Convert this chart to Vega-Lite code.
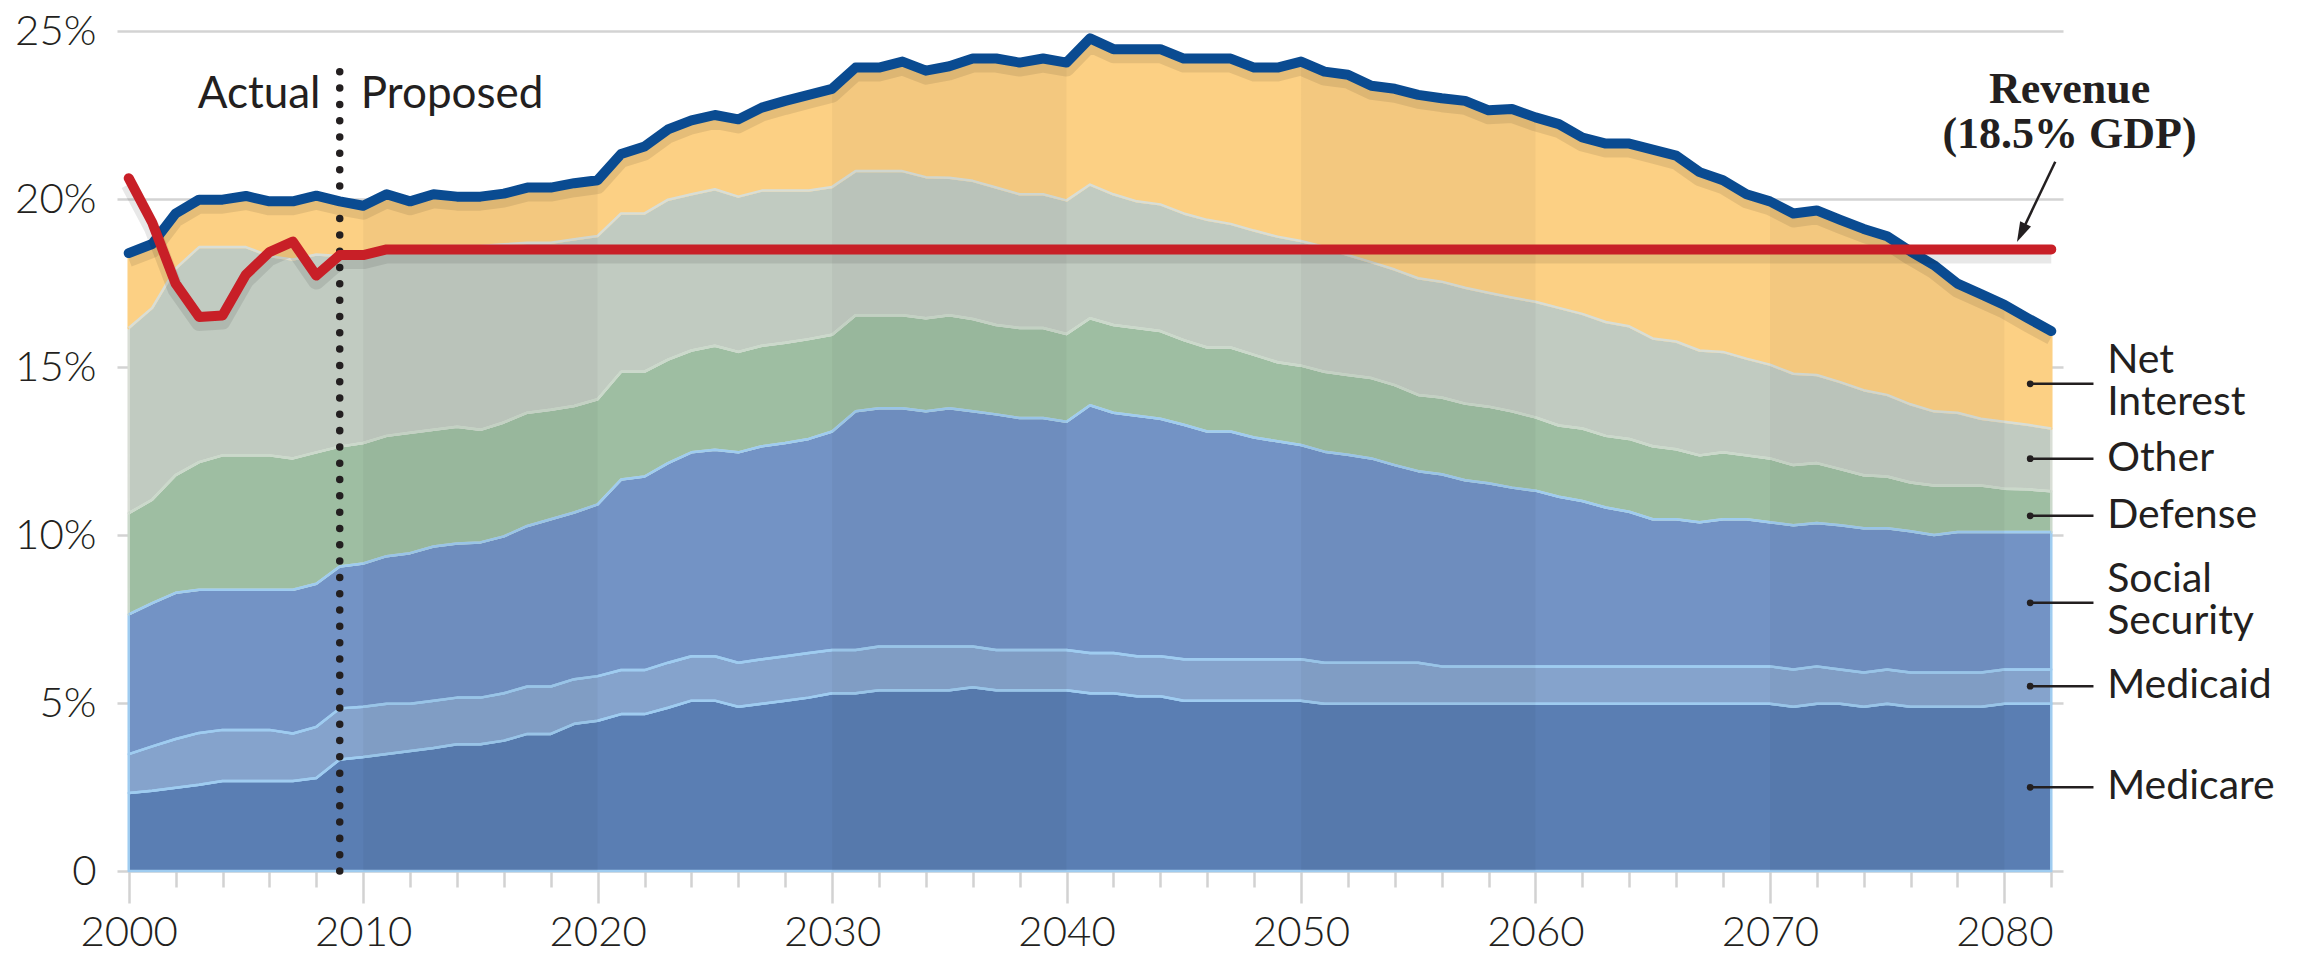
{
  "$schema": "https://vega.github.io/schema/vega-lite/v6.json",
  "autosize": {"type": "none"},
  "width": 1946,
  "height": 840,
  "padding": {"left": 117, "top": 31, "right": 236, "bottom": 84},
  "background": "white",
  "config": {"view": {"stroke": null}},
  "datasets": {
    "spend": [
{"year":2000,"cat":"Medicare","pct":2.32},{"year":2000,"cat":"Medicaid","pct":1.16},{"year":2000,"cat":"Social Security","pct":4.16},{"year":2000,"cat":"Defense","pct":3.01},{"year":2000,"cat":"Other","pct":5.51},{"year":2000,"cat":"Net Interest","pct":2.23},
{"year":2001,"cat":"Medicare","pct":2.39},{"year":2001,"cat":"Medicaid","pct":1.32},{"year":2001,"cat":"Social Security","pct":4.26},{"year":2001,"cat":"Defense","pct":3.08},{"year":2001,"cat":"Other","pct":5.71},{"year":2001,"cat":"Net Interest","pct":1.90},
{"year":2002,"cat":"Medicare","pct":2.48},{"year":2002,"cat":"Medicaid","pct":1.45},{"year":2002,"cat":"Social Security","pct":4.35},{"year":2002,"cat":"Defense","pct":3.50},{"year":2002,"cat":"Other","pct":6.15},{"year":2002,"cat":"Net Interest","pct":1.64},
{"year":2003,"cat":"Medicare","pct":2.57},{"year":2003,"cat":"Medicaid","pct":1.54},{"year":2003,"cat":"Social Security","pct":4.26},{"year":2003,"cat":"Defense","pct":3.80},{"year":2003,"cat":"Other","pct":6.40},{"year":2003,"cat":"Net Interest","pct":1.41},
{"year":2004,"cat":"Medicare","pct":2.68},{"year":2004,"cat":"Medicaid","pct":1.52},{"year":2004,"cat":"Social Security","pct":4.17},{"year":2004,"cat":"Defense","pct":4.00},{"year":2004,"cat":"Other","pct":6.20},{"year":2004,"cat":"Net Interest","pct":1.41},
{"year":2005,"cat":"Medicare","pct":2.68},{"year":2005,"cat":"Medicaid","pct":1.52},{"year":2005,"cat":"Social Security","pct":4.17},{"year":2005,"cat":"Defense","pct":4.00},{"year":2005,"cat":"Other","pct":6.20},{"year":2005,"cat":"Net Interest","pct":1.52},
{"year":2006,"cat":"Medicare","pct":2.68},{"year":2006,"cat":"Medicaid","pct":1.52},{"year":2006,"cat":"Social Security","pct":4.17},{"year":2006,"cat":"Defense","pct":4.00},{"year":2006,"cat":"Other","pct":5.93},{"year":2006,"cat":"Net Interest","pct":1.63},
{"year":2007,"cat":"Medicare","pct":2.68},{"year":2007,"cat":"Medicaid","pct":1.41},{"year":2007,"cat":"Social Security","pct":4.28},{"year":2007,"cat":"Defense","pct":3.91},{"year":2007,"cat":"Other","pct":5.92},{"year":2007,"cat":"Net Interest","pct":1.73},
{"year":2008,"cat":"Medicare","pct":2.77},{"year":2008,"cat":"Medicaid","pct":1.52},{"year":2008,"cat":"Social Security","pct":4.26},{"year":2008,"cat":"Defense","pct":3.91},{"year":2008,"cat":"Other","pct":5.89},{"year":2008,"cat":"Net Interest","pct":1.75},
{"year":2009,"cat":"Medicare","pct":3.32},{"year":2009,"cat":"Medicaid","pct":1.52},{"year":2009,"cat":"Social Security","pct":4.22},{"year":2009,"cat":"Defense","pct":3.57},{"year":2009,"cat":"Other","pct":5.67},{"year":2009,"cat":"Net Interest","pct":1.63},
{"year":2010,"cat":"Medicare","pct":3.39},{"year":2010,"cat":"Medicaid","pct":1.50},{"year":2010,"cat":"Social Security","pct":4.26},{"year":2010,"cat":"Defense","pct":3.59},{"year":2010,"cat":"Other","pct":5.66},{"year":2010,"cat":"Net Interest","pct":1.40},
{"year":2011,"cat":"Medicare","pct":3.48},{"year":2011,"cat":"Medicaid","pct":1.50},{"year":2011,"cat":"Social Security","pct":4.39},{"year":2011,"cat":"Defense","pct":3.58},{"year":2011,"cat":"Other","pct":5.55},{"year":2011,"cat":"Net Interest","pct":1.64},
{"year":2012,"cat":"Medicare","pct":3.57},{"year":2012,"cat":"Medicaid","pct":1.41},{"year":2012,"cat":"Social Security","pct":4.48},{"year":2012,"cat":"Defense","pct":3.58},{"year":2012,"cat":"Other","pct":5.51},{"year":2012,"cat":"Net Interest","pct":1.38},
{"year":2013,"cat":"Medicare","pct":3.66},{"year":2013,"cat":"Medicaid","pct":1.41},{"year":2013,"cat":"Social Security","pct":4.59},{"year":2013,"cat":"Defense","pct":3.47},{"year":2013,"cat":"Other","pct":5.47},{"year":2013,"cat":"Net Interest","pct":1.54},
{"year":2014,"cat":"Medicare","pct":3.77},{"year":2014,"cat":"Medicaid","pct":1.39},{"year":2014,"cat":"Social Security","pct":4.59},{"year":2014,"cat":"Defense","pct":3.47},{"year":2014,"cat":"Other","pct":5.38},{"year":2014,"cat":"Net Interest","pct":1.47},
{"year":2015,"cat":"Medicare","pct":3.77},{"year":2015,"cat":"Medicaid","pct":1.39},{"year":2015,"cat":"Social Security","pct":4.62},{"year":2015,"cat":"Defense","pct":3.35},{"year":2015,"cat":"Other","pct":5.47},{"year":2015,"cat":"Net Interest","pct":1.47},
{"year":2016,"cat":"Medicare","pct":3.88},{"year":2016,"cat":"Medicaid","pct":1.41},{"year":2016,"cat":"Social Security","pct":4.67},{"year":2016,"cat":"Defense","pct":3.39},{"year":2016,"cat":"Other","pct":5.30},{"year":2016,"cat":"Net Interest","pct":1.51},
{"year":2017,"cat":"Medicare","pct":4.08},{"year":2017,"cat":"Medicaid","pct":1.41},{"year":2017,"cat":"Social Security","pct":4.78},{"year":2017,"cat":"Defense","pct":3.37},{"year":2017,"cat":"Other","pct":5.06},{"year":2017,"cat":"Net Interest","pct":1.64},
{"year":2018,"cat":"Medicare","pct":4.08},{"year":2018,"cat":"Medicaid","pct":1.41},{"year":2018,"cat":"Social Security","pct":4.98},{"year":2018,"cat":"Defense","pct":3.26},{"year":2018,"cat":"Other","pct":4.97},{"year":2018,"cat":"Net Interest","pct":1.64},
{"year":2019,"cat":"Medicare","pct":4.38},{"year":2019,"cat":"Medicaid","pct":1.33},{"year":2019,"cat":"Social Security","pct":4.96},{"year":2019,"cat":"Defense","pct":3.17},{"year":2019,"cat":"Other","pct":4.96},{"year":2019,"cat":"Net Interest","pct":1.67},
{"year":2020,"cat":"Medicare","pct":4.47},{"year":2020,"cat":"Medicaid","pct":1.33},{"year":2020,"cat":"Social Security","pct":5.11},{"year":2020,"cat":"Defense","pct":3.13},{"year":2020,"cat":"Other","pct":4.86},{"year":2020,"cat":"Net Interest","pct":1.66},
{"year":2021,"cat":"Medicare","pct":4.67},{"year":2021,"cat":"Medicaid","pct":1.31},{"year":2021,"cat":"Social Security","pct":5.67},{"year":2021,"cat":"Defense","pct":3.21},{"year":2021,"cat":"Other","pct":4.71},{"year":2021,"cat":"Net Interest","pct":1.77},
{"year":2022,"cat":"Medicare","pct":4.67},{"year":2022,"cat":"Medicaid","pct":1.31},{"year":2022,"cat":"Social Security","pct":5.76},{"year":2022,"cat":"Defense","pct":3.12},{"year":2022,"cat":"Other","pct":4.71},{"year":2022,"cat":"Net Interest","pct":1.99},
{"year":2023,"cat":"Medicare","pct":4.86},{"year":2023,"cat":"Medicaid","pct":1.34},{"year":2023,"cat":"Social Security","pct":5.94},{"year":2023,"cat":"Defense","pct":3.08},{"year":2023,"cat":"Other","pct":4.76},{"year":2023,"cat":"Net Interest","pct":2.09},
{"year":2024,"cat":"Medicare","pct":5.07},{"year":2024,"cat":"Medicaid","pct":1.32},{"year":2024,"cat":"Social Security","pct":6.07},{"year":2024,"cat":"Defense","pct":3.03},{"year":2024,"cat":"Other","pct":4.65},{"year":2024,"cat":"Net Interest","pct":2.20},
{"year":2025,"cat":"Medicare","pct":5.07},{"year":2025,"cat":"Medicaid","pct":1.32},{"year":2025,"cat":"Social Security","pct":6.15},{"year":2025,"cat":"Defense","pct":3.09},{"year":2025,"cat":"Other","pct":4.66},{"year":2025,"cat":"Net Interest","pct":2.21},
{"year":2026,"cat":"Medicare","pct":4.89},{"year":2026,"cat":"Medicaid","pct":1.31},{"year":2026,"cat":"Social Security","pct":6.26},{"year":2026,"cat":"Defense","pct":2.99},{"year":2026,"cat":"Other","pct":4.62},{"year":2026,"cat":"Net Interest","pct":2.30},
{"year":2027,"cat":"Medicare","pct":4.98},{"year":2027,"cat":"Medicaid","pct":1.32},{"year":2027,"cat":"Social Security","pct":6.34},{"year":2027,"cat":"Defense","pct":2.99},{"year":2027,"cat":"Other","pct":4.62},{"year":2027,"cat":"Net Interest","pct":2.47},
{"year":2028,"cat":"Medicare","pct":5.07},{"year":2028,"cat":"Medicaid","pct":1.32},{"year":2028,"cat":"Social Security","pct":6.35},{"year":2028,"cat":"Defense","pct":2.98},{"year":2028,"cat":"Other","pct":4.53},{"year":2028,"cat":"Net Interest","pct":2.67},
{"year":2029,"cat":"Medicare","pct":5.16},{"year":2029,"cat":"Medicaid","pct":1.33},{"year":2029,"cat":"Social Security","pct":6.37},{"year":2029,"cat":"Defense","pct":2.97},{"year":2029,"cat":"Other","pct":4.42},{"year":2029,"cat":"Net Interest","pct":2.85},
{"year":2030,"cat":"Medicare","pct":5.29},{"year":2030,"cat":"Medicaid","pct":1.29},{"year":2030,"cat":"Social Security","pct":6.50},{"year":2030,"cat":"Defense","pct":2.88},{"year":2030,"cat":"Other","pct":4.40},{"year":2030,"cat":"Net Interest","pct":2.92},
{"year":2031,"cat":"Medicare","pct":5.29},{"year":2031,"cat":"Medicaid","pct":1.29},{"year":2031,"cat":"Social Security","pct":7.10},{"year":2031,"cat":"Defense","pct":2.86},{"year":2031,"cat":"Other","pct":4.29},{"year":2031,"cat":"Net Interest","pct":3.08},
{"year":2032,"cat":"Medicare","pct":5.38},{"year":2032,"cat":"Medicaid","pct":1.30},{"year":2032,"cat":"Social Security","pct":7.09},{"year":2032,"cat":"Defense","pct":2.77},{"year":2032,"cat":"Other","pct":4.29},{"year":2032,"cat":"Net Interest","pct":3.08},
{"year":2033,"cat":"Medicare","pct":5.38},{"year":2033,"cat":"Medicaid","pct":1.30},{"year":2033,"cat":"Social Security","pct":7.09},{"year":2033,"cat":"Defense","pct":2.77},{"year":2033,"cat":"Other","pct":4.29},{"year":2033,"cat":"Net Interest","pct":3.26},
{"year":2034,"cat":"Medicare","pct":5.38},{"year":2034,"cat":"Medicaid","pct":1.30},{"year":2034,"cat":"Social Security","pct":7.00},{"year":2034,"cat":"Defense","pct":2.77},{"year":2034,"cat":"Other","pct":4.20},{"year":2034,"cat":"Net Interest","pct":3.17},
{"year":2035,"cat":"Medicare","pct":5.38},{"year":2035,"cat":"Medicaid","pct":1.30},{"year":2035,"cat":"Social Security","pct":7.09},{"year":2035,"cat":"Defense","pct":2.77},{"year":2035,"cat":"Other","pct":4.09},{"year":2035,"cat":"Net Interest","pct":3.32},
{"year":2036,"cat":"Medicare","pct":5.47},{"year":2036,"cat":"Medicaid","pct":1.21},{"year":2036,"cat":"Social Security","pct":7.00},{"year":2036,"cat":"Defense","pct":2.75},{"year":2036,"cat":"Other","pct":4.11},{"year":2036,"cat":"Net Interest","pct":3.64},
{"year":2037,"cat":"Medicare","pct":5.38},{"year":2037,"cat":"Medicaid","pct":1.20},{"year":2037,"cat":"Social Security","pct":7.01},{"year":2037,"cat":"Defense","pct":2.66},{"year":2037,"cat":"Other","pct":4.09},{"year":2037,"cat":"Net Interest","pct":3.84},
{"year":2038,"cat":"Medicare","pct":5.38},{"year":2038,"cat":"Medicaid","pct":1.20},{"year":2038,"cat":"Social Security","pct":6.90},{"year":2038,"cat":"Defense","pct":2.68},{"year":2038,"cat":"Other","pct":3.98},{"year":2038,"cat":"Net Interest","pct":3.92},
{"year":2039,"cat":"Medicare","pct":5.38},{"year":2039,"cat":"Medicaid","pct":1.20},{"year":2039,"cat":"Social Security","pct":6.90},{"year":2039,"cat":"Defense","pct":2.68},{"year":2039,"cat":"Other","pct":3.98},{"year":2039,"cat":"Net Interest","pct":4.04},
{"year":2040,"cat":"Medicare","pct":5.38},{"year":2040,"cat":"Medicaid","pct":1.20},{"year":2040,"cat":"Social Security","pct":6.79},{"year":2040,"cat":"Defense","pct":2.61},{"year":2040,"cat":"Other","pct":3.98},{"year":2040,"cat":"Net Interest","pct":4.10},
{"year":2041,"cat":"Medicare","pct":5.29},{"year":2041,"cat":"Medicaid","pct":1.20},{"year":2041,"cat":"Social Security","pct":7.37},{"year":2041,"cat":"Defense","pct":2.59},{"year":2041,"cat":"Other","pct":3.98},{"year":2041,"cat":"Net Interest","pct":4.35},
{"year":2042,"cat":"Medicare","pct":5.29},{"year":2042,"cat":"Medicaid","pct":1.20},{"year":2042,"cat":"Social Security","pct":7.15},{"year":2042,"cat":"Defense","pct":2.61},{"year":2042,"cat":"Other","pct":3.89},{"year":2042,"cat":"Net Interest","pct":4.32},
{"year":2043,"cat":"Medicare","pct":5.20},{"year":2043,"cat":"Medicaid","pct":1.19},{"year":2043,"cat":"Social Security","pct":7.16},{"year":2043,"cat":"Defense","pct":2.61},{"year":2043,"cat":"Other","pct":3.77},{"year":2043,"cat":"Net Interest","pct":4.53},
{"year":2044,"cat":"Medicare","pct":5.20},{"year":2044,"cat":"Medicaid","pct":1.19},{"year":2044,"cat":"Social Security","pct":7.07},{"year":2044,"cat":"Defense","pct":2.61},{"year":2044,"cat":"Other","pct":3.77},{"year":2044,"cat":"Net Interest","pct":4.62},
{"year":2045,"cat":"Medicare","pct":5.07},{"year":2045,"cat":"Medicaid","pct":1.23},{"year":2045,"cat":"Social Security","pct":6.98},{"year":2045,"cat":"Defense","pct":2.52},{"year":2045,"cat":"Other","pct":3.77},{"year":2045,"cat":"Net Interest","pct":4.61},
{"year":2046,"cat":"Medicare","pct":5.07},{"year":2046,"cat":"Medicaid","pct":1.23},{"year":2046,"cat":"Social Security","pct":6.78},{"year":2046,"cat":"Defense","pct":2.50},{"year":2046,"cat":"Other","pct":3.80},{"year":2046,"cat":"Net Interest","pct":4.80},
{"year":2047,"cat":"Medicare","pct":5.07},{"year":2047,"cat":"Medicaid","pct":1.23},{"year":2047,"cat":"Social Security","pct":6.78},{"year":2047,"cat":"Defense","pct":2.50},{"year":2047,"cat":"Other","pct":3.68},{"year":2047,"cat":"Net Interest","pct":4.92},
{"year":2048,"cat":"Medicare","pct":5.07},{"year":2048,"cat":"Medicaid","pct":1.23},{"year":2048,"cat":"Social Security","pct":6.60},{"year":2048,"cat":"Defense","pct":2.46},{"year":2048,"cat":"Other","pct":3.70},{"year":2048,"cat":"Net Interest","pct":4.85},
{"year":2049,"cat":"Medicare","pct":5.07},{"year":2049,"cat":"Medicaid","pct":1.23},{"year":2049,"cat":"Social Security","pct":6.49},{"year":2049,"cat":"Defense","pct":2.35},{"year":2049,"cat":"Other","pct":3.74},{"year":2049,"cat":"Net Interest","pct":5.03},
{"year":2050,"cat":"Medicare","pct":5.07},{"year":2050,"cat":"Medicaid","pct":1.23},{"year":2050,"cat":"Social Security","pct":6.38},{"year":2050,"cat":"Defense","pct":2.36},{"year":2050,"cat":"Other","pct":3.71},{"year":2050,"cat":"Net Interest","pct":5.34},
{"year":2051,"cat":"Medicare","pct":4.98},{"year":2051,"cat":"Medicaid","pct":1.22},{"year":2051,"cat":"Social Security","pct":6.28},{"year":2051,"cat":"Defense","pct":2.38},{"year":2051,"cat":"Other","pct":3.71},{"year":2051,"cat":"Net Interest","pct":5.22},
{"year":2052,"cat":"Medicare","pct":4.98},{"year":2052,"cat":"Medicaid","pct":1.22},{"year":2052,"cat":"Social Security","pct":6.19},{"year":2052,"cat":"Defense","pct":2.37},{"year":2052,"cat":"Other","pct":3.57},{"year":2052,"cat":"Net Interest","pct":5.37},
{"year":2053,"cat":"Medicare","pct":4.98},{"year":2053,"cat":"Medicaid","pct":1.22},{"year":2053,"cat":"Social Security","pct":6.08},{"year":2053,"cat":"Defense","pct":2.39},{"year":2053,"cat":"Other","pct":3.45},{"year":2053,"cat":"Net Interest","pct":5.25},
{"year":2054,"cat":"Medicare","pct":4.98},{"year":2054,"cat":"Medicaid","pct":1.22},{"year":2054,"cat":"Social Security","pct":5.88},{"year":2054,"cat":"Defense","pct":2.38},{"year":2054,"cat":"Other","pct":3.44},{"year":2054,"cat":"Net Interest","pct":5.38},
{"year":2055,"cat":"Medicare","pct":4.98},{"year":2055,"cat":"Medicaid","pct":1.22},{"year":2055,"cat":"Social Security","pct":5.70},{"year":2055,"cat":"Defense","pct":2.27},{"year":2055,"cat":"Other","pct":3.47},{"year":2055,"cat":"Net Interest","pct":5.46},
{"year":2056,"cat":"Medicare","pct":4.98},{"year":2056,"cat":"Medicaid","pct":1.11},{"year":2056,"cat":"Social Security","pct":5.72},{"year":2056,"cat":"Defense","pct":2.28},{"year":2056,"cat":"Other","pct":3.45},{"year":2056,"cat":"Net Interest","pct":5.46},
{"year":2057,"cat":"Medicare","pct":4.98},{"year":2057,"cat":"Medicaid","pct":1.11},{"year":2057,"cat":"Social Security","pct":5.54},{"year":2057,"cat":"Defense","pct":2.28},{"year":2057,"cat":"Other","pct":3.45},{"year":2057,"cat":"Net Interest","pct":5.56},
{"year":2058,"cat":"Medicare","pct":4.98},{"year":2058,"cat":"Medicaid","pct":1.11},{"year":2058,"cat":"Social Security","pct":5.45},{"year":2058,"cat":"Defense","pct":2.28},{"year":2058,"cat":"Other","pct":3.39},{"year":2058,"cat":"Net Interest","pct":5.43},
{"year":2059,"cat":"Medicare","pct":4.98},{"year":2059,"cat":"Medicaid","pct":1.11},{"year":2059,"cat":"Social Security","pct":5.32},{"year":2059,"cat":"Defense","pct":2.27},{"year":2059,"cat":"Other","pct":3.39},{"year":2059,"cat":"Net Interest","pct":5.61},
{"year":2060,"cat":"Medicare","pct":4.98},{"year":2060,"cat":"Medicaid","pct":1.11},{"year":2060,"cat":"Social Security","pct":5.23},{"year":2060,"cat":"Defense","pct":2.18},{"year":2060,"cat":"Other","pct":3.44},{"year":2060,"cat":"Net Interest","pct":5.49},
{"year":2061,"cat":"Medicare","pct":4.98},{"year":2061,"cat":"Medicaid","pct":1.11},{"year":2061,"cat":"Social Security","pct":5.05},{"year":2061,"cat":"Defense","pct":2.12},{"year":2061,"cat":"Other","pct":3.50},{"year":2061,"cat":"Net Interest","pct":5.47},
{"year":2062,"cat":"Medicare","pct":4.98},{"year":2062,"cat":"Medicaid","pct":1.11},{"year":2062,"cat":"Social Security","pct":4.92},{"year":2062,"cat":"Defense","pct":2.16},{"year":2062,"cat":"Other","pct":3.41},{"year":2062,"cat":"Net Interest","pct":5.25},
{"year":2063,"cat":"Medicare","pct":4.98},{"year":2063,"cat":"Medicaid","pct":1.11},{"year":2063,"cat":"Social Security","pct":4.73},{"year":2063,"cat":"Defense","pct":2.13},{"year":2063,"cat":"Other","pct":3.39},{"year":2063,"cat":"Net Interest","pct":5.31},
{"year":2064,"cat":"Medicare","pct":4.98},{"year":2064,"cat":"Medicaid","pct":1.11},{"year":2064,"cat":"Social Security","pct":4.60},{"year":2064,"cat":"Defense","pct":2.17},{"year":2064,"cat":"Other","pct":3.35},{"year":2064,"cat":"Net Interest","pct":5.44},
{"year":2065,"cat":"Medicare","pct":4.98},{"year":2065,"cat":"Medicaid","pct":1.11},{"year":2065,"cat":"Social Security","pct":4.38},{"year":2065,"cat":"Defense","pct":2.17},{"year":2065,"cat":"Other","pct":3.21},{"year":2065,"cat":"Net Interest","pct":5.62},
{"year":2066,"cat":"Medicare","pct":4.98},{"year":2066,"cat":"Medicaid","pct":1.11},{"year":2066,"cat":"Social Security","pct":4.38},{"year":2066,"cat":"Defense","pct":2.08},{"year":2066,"cat":"Other","pct":3.21},{"year":2066,"cat":"Net Interest","pct":5.53},
{"year":2067,"cat":"Medicare","pct":4.98},{"year":2067,"cat":"Medicaid","pct":1.11},{"year":2067,"cat":"Social Security","pct":4.29},{"year":2067,"cat":"Defense","pct":1.99},{"year":2067,"cat":"Other","pct":3.12},{"year":2067,"cat":"Net Interest","pct":5.31},
{"year":2068,"cat":"Medicare","pct":4.98},{"year":2068,"cat":"Medicaid","pct":1.11},{"year":2068,"cat":"Social Security","pct":4.38},{"year":2068,"cat":"Defense","pct":1.99},{"year":2068,"cat":"Other","pct":2.99},{"year":2068,"cat":"Net Interest","pct":5.11},
{"year":2069,"cat":"Medicare","pct":4.98},{"year":2069,"cat":"Medicaid","pct":1.11},{"year":2069,"cat":"Social Security","pct":4.38},{"year":2069,"cat":"Defense","pct":1.90},{"year":2069,"cat":"Other","pct":2.88},{"year":2069,"cat":"Net Interest","pct":4.89},
{"year":2070,"cat":"Medicare","pct":4.98},{"year":2070,"cat":"Medicaid","pct":1.11},{"year":2070,"cat":"Social Security","pct":4.29},{"year":2070,"cat":"Defense","pct":1.90},{"year":2070,"cat":"Other","pct":2.79},{"year":2070,"cat":"Net Interest","pct":4.86},
{"year":2071,"cat":"Medicare","pct":4.89},{"year":2071,"cat":"Medicaid","pct":1.11},{"year":2071,"cat":"Social Security","pct":4.29},{"year":2071,"cat":"Defense","pct":1.79},{"year":2071,"cat":"Other","pct":2.72},{"year":2071,"cat":"Net Interest","pct":4.77},
{"year":2072,"cat":"Medicare","pct":4.98},{"year":2072,"cat":"Medicaid","pct":1.11},{"year":2072,"cat":"Social Security","pct":4.27},{"year":2072,"cat":"Defense","pct":1.78},{"year":2072,"cat":"Other","pct":2.62},{"year":2072,"cat":"Net Interest","pct":4.90},
{"year":2073,"cat":"Medicare","pct":4.98},{"year":2073,"cat":"Medicaid","pct":1.02},{"year":2073,"cat":"Social Security","pct":4.29},{"year":2073,"cat":"Defense","pct":1.67},{"year":2073,"cat":"Other","pct":2.59},{"year":2073,"cat":"Net Interest","pct":4.83},
{"year":2074,"cat":"Medicare","pct":4.89},{"year":2074,"cat":"Medicaid","pct":1.02},{"year":2074,"cat":"Social Security","pct":4.29},{"year":2074,"cat":"Defense","pct":1.58},{"year":2074,"cat":"Other","pct":2.53},{"year":2074,"cat":"Net Interest","pct":4.80},
{"year":2075,"cat":"Medicare","pct":4.98},{"year":2075,"cat":"Medicaid","pct":1.02},{"year":2075,"cat":"Social Security","pct":4.20},{"year":2075,"cat":"Defense","pct":1.54},{"year":2075,"cat":"Other","pct":2.43},{"year":2075,"cat":"Net Interest","pct":4.72},
{"year":2076,"cat":"Medicare","pct":4.89},{"year":2076,"cat":"Medicaid","pct":1.02},{"year":2076,"cat":"Social Security","pct":4.20},{"year":2076,"cat":"Defense","pct":1.45},{"year":2076,"cat":"Other","pct":2.33},{"year":2076,"cat":"Net Interest","pct":4.55},
{"year":2077,"cat":"Medicare","pct":4.89},{"year":2077,"cat":"Medicaid","pct":1.02},{"year":2077,"cat":"Social Security","pct":4.09},{"year":2077,"cat":"Defense","pct":1.47},{"year":2077,"cat":"Other","pct":2.21},{"year":2077,"cat":"Net Interest","pct":4.35},
{"year":2078,"cat":"Medicare","pct":4.89},{"year":2078,"cat":"Medicaid","pct":1.02},{"year":2078,"cat":"Social Security","pct":4.18},{"year":2078,"cat":"Defense","pct":1.38},{"year":2078,"cat":"Other","pct":2.17},{"year":2078,"cat":"Net Interest","pct":3.84},
{"year":2079,"cat":"Medicare","pct":4.89},{"year":2079,"cat":"Medicaid","pct":1.02},{"year":2079,"cat":"Social Security","pct":4.18},{"year":2079,"cat":"Defense","pct":1.38},{"year":2079,"cat":"Other","pct":1.99},{"year":2079,"cat":"Net Interest","pct":3.71},
{"year":2080,"cat":"Medicare","pct":4.98},{"year":2080,"cat":"Medicaid","pct":1.02},{"year":2080,"cat":"Social Security","pct":4.09},{"year":2080,"cat":"Defense","pct":1.29},{"year":2080,"cat":"Other","pct":1.99},{"year":2080,"cat":"Net Interest","pct":3.48},
{"year":2081,"cat":"Medicare","pct":4.98},{"year":2081,"cat":"Medicaid","pct":1.02},{"year":2081,"cat":"Social Security","pct":4.09},{"year":2081,"cat":"Defense","pct":1.27},{"year":2081,"cat":"Other","pct":1.92},{"year":2081,"cat":"Net Interest","pct":3.17},
{"year":2082,"cat":"Medicare","pct":4.98},{"year":2082,"cat":"Medicaid","pct":1.02},{"year":2082,"cat":"Social Security","pct":4.09},{"year":2082,"cat":"Defense","pct":1.21},{"year":2082,"cat":"Other","pct":1.87},{"year":2082,"cat":"Net Interest","pct":2.90}
    ],
    "revenue": [
{"year":2000,"pct":20.62},{"year":2001,"pct":19.3},{"year":2002,"pct":17.48},{"year":2003,"pct":16.49},{"year":2004,"pct":16.53},{"year":2005,"pct":17.75},{"year":2006,"pct":18.42},{"year":2007,"pct":18.73},{"year":2008,"pct":17.72},{"year":2009,"pct":18.33},{"year":2010,"pct":18.33},
{"year":2011,"pct":18.5},{"year":2012,"pct":18.5},{"year":2013,"pct":18.5},{"year":2014,"pct":18.5},{"year":2015,"pct":18.5},{"year":2016,"pct":18.5},{"year":2017,"pct":18.5},{"year":2018,"pct":18.5},{"year":2019,"pct":18.5},{"year":2020,"pct":18.5},
{"year":2021,"pct":18.5},{"year":2022,"pct":18.5},{"year":2023,"pct":18.5},{"year":2024,"pct":18.5},{"year":2025,"pct":18.5},{"year":2026,"pct":18.5},{"year":2027,"pct":18.5},{"year":2028,"pct":18.5},{"year":2029,"pct":18.5},{"year":2030,"pct":18.5},
{"year":2031,"pct":18.5},{"year":2032,"pct":18.5},{"year":2033,"pct":18.5},{"year":2034,"pct":18.5},{"year":2035,"pct":18.5},{"year":2036,"pct":18.5},{"year":2037,"pct":18.5},{"year":2038,"pct":18.5},{"year":2039,"pct":18.5},{"year":2040,"pct":18.5},
{"year":2041,"pct":18.5},{"year":2042,"pct":18.5},{"year":2043,"pct":18.5},{"year":2044,"pct":18.5},{"year":2045,"pct":18.5},{"year":2046,"pct":18.5},{"year":2047,"pct":18.5},{"year":2048,"pct":18.5},{"year":2049,"pct":18.5},{"year":2050,"pct":18.5},
{"year":2051,"pct":18.5},{"year":2052,"pct":18.5},{"year":2053,"pct":18.5},{"year":2054,"pct":18.5},{"year":2055,"pct":18.5},{"year":2056,"pct":18.5},{"year":2057,"pct":18.5},{"year":2058,"pct":18.5},{"year":2059,"pct":18.5},{"year":2060,"pct":18.5},
{"year":2061,"pct":18.5},{"year":2062,"pct":18.5},{"year":2063,"pct":18.5},{"year":2064,"pct":18.5},{"year":2065,"pct":18.5},{"year":2066,"pct":18.5},{"year":2067,"pct":18.5},{"year":2068,"pct":18.5},{"year":2069,"pct":18.5},{"year":2070,"pct":18.5},
{"year":2071,"pct":18.5},{"year":2072,"pct":18.5},{"year":2073,"pct":18.5},{"year":2074,"pct":18.5},{"year":2075,"pct":18.5},{"year":2076,"pct":18.5},{"year":2077,"pct":18.5},{"year":2078,"pct":18.5},{"year":2079,"pct":18.5},{"year":2080,"pct":18.5},
{"year":2081,"pct":18.5},{"year":2082,"pct":18.5}
    ],
    "bands": [
{"year":2010,"band":"2010s"},{"year":2011,"band":"2010s"},{"year":2012,"band":"2010s"},{"year":2013,"band":"2010s"},{"year":2014,"band":"2010s"},{"year":2015,"band":"2010s"},{"year":2016,"band":"2010s"},{"year":2017,"band":"2010s"},{"year":2018,"band":"2010s"},{"year":2019,"band":"2010s"},{"year":2020,"band":"2010s"},
{"year":2030,"band":"2030s"},{"year":2031,"band":"2030s"},{"year":2032,"band":"2030s"},{"year":2033,"band":"2030s"},{"year":2034,"band":"2030s"},{"year":2035,"band":"2030s"},{"year":2036,"band":"2030s"},{"year":2037,"band":"2030s"},{"year":2038,"band":"2030s"},{"year":2039,"band":"2030s"},{"year":2040,"band":"2030s"},
{"year":2050,"band":"2050s"},{"year":2051,"band":"2050s"},{"year":2052,"band":"2050s"},{"year":2053,"band":"2050s"},{"year":2054,"band":"2050s"},{"year":2055,"band":"2050s"},{"year":2056,"band":"2050s"},{"year":2057,"band":"2050s"},{"year":2058,"band":"2050s"},{"year":2059,"band":"2050s"},{"year":2060,"band":"2050s"},
{"year":2070,"band":"2070s"},{"year":2071,"band":"2070s"},{"year":2072,"band":"2070s"},{"year":2073,"band":"2070s"},{"year":2074,"band":"2070s"},{"year":2075,"band":"2070s"},{"year":2076,"band":"2070s"},{"year":2077,"band":"2070s"},{"year":2078,"band":"2070s"},{"year":2079,"band":"2070s"},{"year":2080,"band":"2070s"}
    ],
    "labels": [
{"cat":"Net Interest","text":["Net","Interest"],"year":2081.1,"pct":14.5},
{"cat":"Other","text":["Other"],"year":2081.1,"pct":12.27},
{"cat":"Defense","text":["Defense"],"year":2081.1,"pct":10.57},
{"cat":"Social Security","text":["Social","Security"],"year":2081.1,"pct":7.98},
{"cat":"Medicaid","text":["Medicaid"],"year":2081.1,"pct":5.5},
{"cat":"Medicare","text":["Medicare"],"year":2081.1,"pct":2.49}
    ]
  },
  "layer": [
    {
      "data": {"name": "spend"},
      "transform": [{"calculate": "indexof(['Medicare','Medicaid','Social Security','Defense','Other','Net Interest'], datum.cat)", "as": "k"}],
      "mark": {"type": "area", "strokeWidth": 2.5, "strokeJoin": "round"},
      "encoding": {
        "x": {"field": "year", "type": "quantitative", "title": null,
          "scale": {"domain": [1999.5, 2082.5], "nice": false, "zero": false},
          "axis": {
            "values": [2000,2001,2002,2003,2004,2005,2006,2007,2008,2009,2010,2011,2012,2013,2014,2015,2016,2017,2018,2019,2020,2021,2022,2023,2024,2025,2026,2027,2028,2029,2030,2031,2032,2033,2034,2035,2036,2037,2038,2039,2040,2041,2042,2043,2044,2045,2046,2047,2048,2049,2050,2051,2052,2053,2054,2055,2056,2057,2058,2059,2060,2061,2062,2063,2064,2065,2066,2067,2068,2069,2070,2071,2072,2073,2074,2075,2076,2077,2078,2079,2080,2081,2082],
            "format": "d",
            "labelExpr": "datum.value % 10 === 0 ? datum.label : ''",
            "labelOverlap": false, "labelFlush": false, "grid": false, "domain": false,
            "tickColor": "#d2d2d2", "tickWidth": 2.5,
            "tickSize": {"condition": {"test": "datum.value % 10 === 0", "value": 32}, "value": 16},
            "labelFont": "Lato", "labelFontSize": 42, "labelFontWeight": 300, "labelColor": "#231f20", "labelPadding": 9
          }
        },
        "y": {"field": "pct", "type": "quantitative", "stack": "zero", "title": null,
          "scale": {"domain": [0, 25], "nice": false},
          "axis": {
            "values": [0, 5, 10, 15, 20, 25],
            "labelExpr": "datum.value === 0 ? '0' : datum.value + '%'",
            "grid": true, "gridColor": "#d3d3d3", "gridWidth": 2.5,
            "domain": false, "ticks": false, "labelPadding": 21,
            "labelFont": "Lato", "labelFontSize": 42, "labelFontWeight": 300, "labelColor": "#231f20"
          }
        },
        "fill": {"field": "cat", "type": "nominal", "legend": null,
          "scale": {"domain": ["Medicare","Medicaid","Social Security","Defense","Other","Net Interest"],
                    "range": ["#5A7EB3","#85A3CC","#7393C5","#9EBEA2","#C1CBC1","#FCD084"]}},
        "stroke": {"field": "cat", "type": "nominal", "legend": null,
          "scale": {"domain": ["Medicare","Medicaid","Social Security","Defense","Other","Net Interest"],
                    "range": ["#9FCCF0","#9FCCF0","#9FCCF0","#CBD9CB","#D9DED6","#FCD084"]}},
        "order": {"field": "k", "type": "quantitative"}
      }
    },
    {
      "data": {"name": "spend"},
      "transform": [{"calculate": "indexof(['Medicare','Medicaid','Social Security','Defense','Other','Net Interest'], datum.cat)", "as": "k"}],
      "mark": {"type": "line", "strokeWidth": 2.5, "strokeJoin": "round"},
      "encoding": {
        "x": {"field": "year", "type": "quantitative", "title": null},
        "y": {"field": "pct", "type": "quantitative", "stack": "zero", "title": null},
        "stroke": {"field": "cat", "type": "nominal", "legend": null},
        "order": {"field": "k", "type": "quantitative"}
      }
    },
    {
      "data": {"name": "spend"},
      "transform": [
        {"aggregate": [{"op": "sum", "field": "pct", "as": "total"}], "groupby": ["year"]},
        {"lookup": "year", "from": {"data": {"name": "bands"}, "key": "year", "fields": ["band"]}},
        {"filter": "isValid(datum.band)"}
      ],
      "mark": {"type": "area", "color": "#000000", "opacity": 0.035},
      "encoding": {
        "x": {"field": "year", "type": "quantitative", "title": null},
        "y": {"field": "total", "type": "quantitative", "stack": null, "title": null},
        "y2": {"datum": 0},
        "detail": {"field": "band", "type": "nominal"}
      }
    },
    {
      "data": {"values": [{"year": 2009, "pct": 0, "top": 24.25}]},
      "mark": {"type": "rule", "color": "#231f20", "strokeWidth": 7.5, "strokeCap": "round", "strokeDash": [0.01, 16.3]},
      "encoding": {
        "x": {"field": "year", "type": "quantitative", "title": null},
        "y": {"field": "pct", "type": "quantitative", "title": null},
        "y2": {"field": "top"}
      }
    },
    {
      "data": {"name": "spend"},
      "transform": [{"aggregate": [{"op": "sum", "field": "pct", "as": "total"}], "groupby": ["year"]}],
      "mark": {"type": "line", "color": "#000000", "opacity": 0.09, "strokeWidth": 16, "strokeJoin": "round", "yOffset": 6},
      "encoding": {
        "x": {"field": "year", "type": "quantitative", "title": null},
        "y": {"field": "total", "type": "quantitative", "title": null}
      }
    },
    {
      "data": {"name": "spend"},
      "transform": [{"aggregate": [{"op": "sum", "field": "pct", "as": "total"}], "groupby": ["year"]}],
      "mark": {"type": "line", "color": "#0A4B91", "strokeWidth": 10, "strokeJoin": "round", "strokeCap": "round"},
      "encoding": {
        "x": {"field": "year", "type": "quantitative", "title": null},
        "y": {"field": "total", "type": "quantitative", "title": null}
      }
    },
    {
      "data": {"name": "revenue"},
      "mark": {"type": "line", "color": "#000000", "opacity": 0.09, "strokeWidth": 16, "strokeJoin": "round", "yOffset": 6},
      "encoding": {
        "x": {"field": "year", "type": "quantitative", "title": null},
        "y": {"field": "pct", "type": "quantitative", "title": null}
      }
    },
    {
      "data": {"name": "revenue"},
      "mark": {"type": "line", "color": "#C81F27", "strokeWidth": 10, "strokeJoin": "round", "strokeCap": "round"},
      "encoding": {
        "x": {"field": "year", "type": "quantitative", "title": null},
        "y": {"field": "pct", "type": "quantitative", "title": null}
      }
    },
    {
      "data": {"values": [{"year": 2008.18, "pct": 22.7, "text": "Actual"}]},
      "mark": {"type": "text", "align": "right", "baseline": "alphabetic", "font": "Lato", "fontSize": 44, "color": "#231f20"},
      "encoding": {
        "x": {"field": "year", "type": "quantitative", "title": null},
        "y": {"field": "pct", "type": "quantitative", "title": null},
        "text": {"field": "text"}
      }
    },
    {
      "data": {"values": [{"year": 2009.9, "pct": 22.7, "text": "Proposed"}]},
      "mark": {"type": "text", "align": "left", "baseline": "alphabetic", "font": "Lato", "fontSize": 44, "color": "#231f20"},
      "encoding": {
        "x": {"field": "year", "type": "quantitative", "title": null},
        "y": {"field": "pct", "type": "quantitative", "title": null},
        "text": {"field": "text"}
      }
    },
    {
      "data": {"values": [{"year": 2082.78, "pct": 22.86, "text": ["Revenue", "(18.5% GDP)"]}]},
      "mark": {"type": "text", "align": "center", "baseline": "alphabetic", "font": "Liberation Serif", "fontWeight": "bold", "fontSize": 44, "lineHeight": 45, "color": "#231f20"},
      "encoding": {
        "x": {"field": "year", "type": "quantitative", "title": null},
        "y": {"field": "pct", "type": "quantitative", "title": null},
        "text": {"field": "text"}
      }
    },
    {
      "data": {"values": [{"year": 2082.17, "pct": 21.11, "year2": 2080.72, "pct2": 18.99}]},
      "mark": {"type": "rule", "color": "#231f20", "strokeWidth": 2.5},
      "encoding": {
        "x": {"field": "year", "type": "quantitative", "title": null},
        "y": {"field": "pct", "type": "quantitative", "title": null},
        "x2": {"field": "year2"},
        "y2": {"field": "pct2"}
      }
    },
    {
      "data": {"values": [{"year": 2080.72, "pct": 18.99}]},
      "mark": {"type": "point", "shape": "M-0.6,-1L0.6,-1L0,1Z", "size": 400, "angle": 25.6, "filled": true, "color": "#231f20", "opacity": 1},
      "encoding": {
        "x": {"field": "year", "type": "quantitative", "title": null},
        "y": {"field": "pct", "type": "quantitative", "title": null}
      }
    },
    {
      "data": {"name": "labels"},
      "mark": {"type": "rule", "color": "#231f20", "strokeWidth": 2.5},
      "encoding": {
        "x": {"field": "year", "type": "quantitative", "title": null},
        "x2": {"datum": 2083.8},
        "y": {"field": "pct", "type": "quantitative", "title": null}
      }
    },
    {
      "data": {"name": "labels"},
      "mark": {"type": "circle", "color": "#231f20", "size": 45, "opacity": 1},
      "encoding": {
        "x": {"field": "year", "type": "quantitative", "title": null},
        "y": {"field": "pct", "type": "quantitative", "title": null}
      }
    },
    {
      "data": {"name": "labels"},
      "transform": [{"filter": "length(datum.text) === 1"}],
      "mark": {"type": "text", "align": "left", "baseline": "middle", "dx": 77, "font": "Lato", "fontSize": 41, "lineHeight": 42, "color": "#231f20"},
      "encoding": {
        "x": {"field": "year", "type": "quantitative", "title": null},
        "y": {"field": "pct", "type": "quantitative", "title": null},
        "text": {"field": "text"}
      }
    },
    {
      "data": {"name": "labels"},
      "transform": [{"filter": "length(datum.text) > 1"}],
      "mark": {"type": "text", "align": "left", "baseline": "middle", "dx": 77, "dy": -23, "font": "Lato", "fontSize": 41, "lineHeight": 42, "color": "#231f20"},
      "encoding": {
        "x": {"field": "year", "type": "quantitative", "title": null},
        "y": {"field": "pct", "type": "quantitative", "title": null},
        "text": {"field": "text"}
      }
    }
  ]
}
